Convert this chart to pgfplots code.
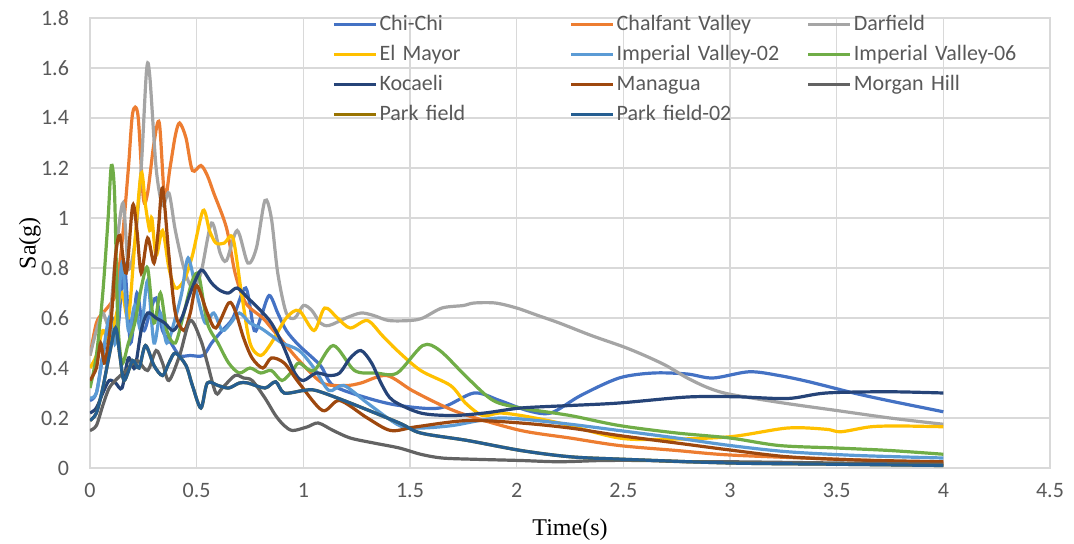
\documentclass[border=0pt]{standalone}
\usepackage{pgfplots}
\pgfplotsset{compat=1.18}
\usepackage{pgfplotstable}
\usepackage{fontspec}
\setmainfont{Carlito}
\newfontfamily\timesfont{Liberation Serif}

\definecolor{cChiChi}{HTML}{4472C4}
\definecolor{cChalfant}{HTML}{ED7D31}
\definecolor{cDarfield}{HTML}{A5A5A5}
\definecolor{cElMayor}{HTML}{FFC000}
\definecolor{cImpA}{HTML}{5B9BD5}
\definecolor{cImpB}{HTML}{70AD47}
\definecolor{cKocaeli}{HTML}{264478}
\definecolor{cManagua}{HTML}{9E480E}
\definecolor{cMorgan}{HTML}{636363}
\definecolor{cPark}{HTML}{997300}
\definecolor{cParkB}{HTML}{255E91}
\definecolor{gridc}{HTML}{D9D9D9}
\definecolor{tickc}{HTML}{595959}

% Park field and Park field-02 coincide (only the later one is visible)
\pgfplotstableread{
t sa
0 0.19
0.03 0.22
0.06 0.32
0.09 0.45
0.12 0.56
0.14 0.45
0.16 0.35
0.2 0.43
0.23 0.40
0.26 0.49
0.3 0.41
0.34 0.37
0.37 0.42
0.40 0.46
0.45 0.41
0.48 0.33
0.52 0.24
0.55 0.34
0.6 0.33
0.65 0.32
0.7 0.34
0.74 0.34
0.82 0.32
0.87 0.345
0.91 0.30
1.0 0.31
1.06 0.31
1.22 0.26
1.45 0.18
1.55 0.14
1.77 0.11
2.02 0.07
2.25 0.045
2.5 0.035
3.0 0.02
3.5 0.015
4.0 0.01
}\parkfield

\begin{document}
\begin{tikzpicture}
\begin{axis}[
  scale only axis, width=480pt, height=225pt,
  xmin=0, xmax=4.5, ymin=0, ymax=1.8,
  xtick={0,0.5,...,4.5}, ytick={0,0.2,...,1.8},
  major tick length=0pt,
  grid=major, major grid style={gridc, line width=0.8pt},
  axis line style={gridc, line width=0.8pt},
  tick label style={font=\fontsize{11}{13}\selectfont, text=tickc},
  /pgf/number format/assume math mode=true,
  xticklabel style={yshift=-4pt},
  yticklabel style={xshift=-7pt},
  xlabel={Time(s)}, ylabel={Sa(g)},
  label style={font=\timesfont\fontsize{12}{14}\selectfont},
  xlabel style={at={(axis description cs:0.5,-0.138)}, anchor=center},
  ylabel style={at={(axis description cs:-0.0625,0.5)}, anchor=center},
  every axis plot/.append style={line width=1.6pt, smooth, no markers},
  legend columns=3,
  legend cell align=left,
  legend image code/.code={\draw[#1] (0pt,0pt) -- (21pt,0pt);},
  legend style={at={(0.252,1.014)}, anchor=north west, draw=none, fill=none,
    inner sep=0pt, row sep=2.5pt,
    font=\fontsize{11}{13}\selectfont, text=tickc,
    nodes={text width=94pt, text height=8pt, text depth=2.5pt, inner sep=1pt, anchor=west}},
]
% Chi-Chi
\addplot[cChiChi] coordinates {(0,0.27)(0.03,0.3)(0.06,0.45)(0.1,0.6)(0.13,0.55)(0.16,0.82)(0.19,0.5)(0.22,0.7)(0.25,0.55)(0.28,0.62)(0.31,0.68)(0.34,0.55)(0.38,0.5)(0.42,0.45)(0.47,0.45)(0.53,0.45)(0.57,0.5)(0.62,0.55)(0.67,0.6)(0.73,0.72)(0.77,0.55)(0.8,0.6)(0.84,0.69)(0.88,0.62)(0.92,0.55)(0.98,0.49)(1.08,0.41)(1.14,0.33)(1.3,0.28)(1.45,0.25)(1.64,0.24)(1.8,0.30)(1.92,0.27)(2.05,0.23)(2.16,0.22)(2.3,0.29)(2.48,0.36)(2.64,0.38)(2.8,0.376)(2.92,0.36)(3.09,0.385)(3.23,0.37)(3.37,0.345)(3.58,0.30)(3.74,0.27)(4.0,0.225)};
\addlegendentry{Chi-Chi}
% Chalfant Valley
\addplot[cChalfant] coordinates {(0,0.45)(0.03,0.58)(0.06,0.62)(0.09,0.65)(0.12,0.7)(0.15,0.9)(0.18,1.2)(0.2,1.42)(0.225,1.41)(0.25,1.08)(0.27,1.1)(0.3,1.3)(0.325,1.38)(0.35,1.08)(0.375,1.2)(0.4,1.33)(0.42,1.38)(0.45,1.32)(0.48,1.19)(0.52,1.21)(0.55,1.17)(0.58,1.10)(0.64,0.96)(0.68,0.78)(0.73,0.66)(0.81,0.6)(0.85,0.56)(0.9,0.51)(0.98,0.43)(1.09,0.34)(1.2,0.33)(1.27,0.34)(1.39,0.37)(1.51,0.31)(1.65,0.25)(1.77,0.21)(2.02,0.15)(2.25,0.12)(2.48,0.09)(2.75,0.07)(3.0,0.052)(3.5,0.035)(4.0,0.02)};
\addlegendentry{Chalfant Valley}
% Darfield
\addplot[cDarfield] coordinates {(0,0.45)(0.03,0.55)(0.06,0.62)(0.09,0.58)(0.12,0.85)(0.155,1.06)(0.18,0.8)(0.21,0.9)(0.24,1.2)(0.265,1.59)(0.28,1.57)(0.31,1.2)(0.34,1.05)(0.37,1.1)(0.40,0.95)(0.44,0.8)(0.48,0.72)(0.52,0.78)(0.57,0.98)(0.61,0.86)(0.64,0.83)(0.69,0.95)(0.74,0.82)(0.78,0.88)(0.82,1.07)(0.85,1.0)(0.88,0.78)(0.92,0.62)(0.96,0.6)(1.0,0.65)(1.04,0.63)(1.08,0.58)(1.12,0.57)(1.2,0.6)(1.27,0.62)(1.33,0.61)(1.4,0.59)(1.5,0.59)(1.56,0.6)(1.65,0.64)(1.75,0.65)(1.8,0.66)(1.9,0.66)(2.0,0.64)(2.1,0.61)(2.2,0.58)(2.35,0.53)(2.5,0.485)(2.6,0.45)(2.7,0.41)(2.8,0.36)(2.9,0.32)(3.0,0.295)(3.25,0.26)(3.5,0.23)(3.75,0.2)(4.0,0.175)};
\addlegendentry{Darfield}
% El Mayor
\addplot[cElMayor] coordinates {(0,0.40)(0.03,0.45)(0.06,0.55)(0.09,0.5)(0.12,0.6)(0.15,0.7)(0.18,0.6)(0.21,0.9)(0.24,1.18)(0.26,1.05)(0.28,0.95)(0.29,1.0)(0.31,0.85)(0.34,0.95)(0.37,0.8)(0.4,0.72)(0.44,0.75)(0.48,0.85)(0.53,1.03)(0.56,0.95)(0.59,0.90)(0.63,0.9)(0.67,0.92)(0.71,0.70)(0.75,0.5)(0.8,0.45)(0.85,0.5)(0.92,0.6)(0.98,0.63)(1.05,0.55)(1.10,0.64)(1.16,0.6)(1.22,0.56)(1.30,0.59)(1.37,0.53)(1.44,0.47)(1.55,0.39)(1.69,0.33)(1.76,0.26)(1.84,0.21)(1.92,0.22)(2.02,0.21)(2.2,0.18)(2.48,0.12)(2.7,0.115)(3.0,0.125)(3.27,0.16)(3.45,0.155)(3.52,0.145)(3.66,0.165)(3.8,0.168)(4.0,0.165)};
\addlegendentry{El Mayor}
% Imperial Valley-02
\addplot[cImpA] coordinates {(0,0.28)(0.03,0.3)(0.06,0.45)(0.09,0.6)(0.12,0.5)(0.15,0.82)(0.18,0.55)(0.21,0.65)(0.24,0.55)(0.27,0.75)(0.3,0.5)(0.33,0.62)(0.36,0.5)(0.4,0.6)(0.43,0.7)(0.46,0.84)(0.5,0.7)(0.54,0.58)(0.58,0.62)(0.62,0.55)(0.66,0.58)(0.7,0.62)(0.75,0.58)(0.8,0.56)(0.85,0.53)(0.9,0.5)(0.98,0.47)(1.05,0.4)(1.12,0.31)(1.19,0.33)(1.3,0.26)(1.45,0.17)(1.55,0.16)(1.7,0.17)(1.92,0.2)(2.2,0.18)(2.48,0.15)(2.75,0.12)(3.0,0.09)(3.27,0.065)(3.6,0.05)(4.0,0.04)};
\addlegendentry{Imperial Valley-02}
% Imperial Valley-06
\addplot[cImpB] coordinates {(0,0.32)(0.03,0.45)(0.06,0.7)(0.085,1.0)(0.1,1.21)(0.115,1.1)(0.13,0.6)(0.15,0.42)(0.18,0.5)(0.21,0.58)(0.24,0.72)(0.27,0.8)(0.3,0.58)(0.33,0.7)(0.36,0.55)(0.4,0.5)(0.44,0.62)(0.48,0.75)(0.51,0.77)(0.55,0.58)(0.6,0.5)(0.65,0.42)(0.7,0.38)(0.75,0.40)(0.8,0.38)(0.85,0.39)(0.9,0.35)(0.95,0.39)(0.98,0.42)(1.05,0.39)(1.14,0.49)(1.24,0.39)(1.34,0.38)(1.44,0.38)(1.56,0.49)(1.64,0.47)(1.77,0.36)(1.89,0.27)(2.02,0.24)(2.25,0.21)(2.48,0.17)(2.75,0.14)(3.0,0.12)(3.23,0.09)(3.5,0.08)(3.75,0.07)(4.0,0.055)};
\addlegendentry{Imperial Valley-06}
% Kocaeli
\addplot[cKocaeli] coordinates {(0,0.22)(0.03,0.24)(0.06,0.3)(0.09,0.35)(0.12,0.34)(0.15,0.32)(0.18,0.44)(0.21,0.4)(0.24,0.55)(0.27,0.62)(0.31,0.6)(0.35,0.58)(0.39,0.55)(0.43,0.6)(0.47,0.7)(0.51,0.78)(0.53,0.79)(0.57,0.74)(0.61,0.71)(0.65,0.7)(0.69,0.72)(0.74,0.68)(0.8,0.63)(0.85,0.58)(0.9,0.5)(0.96,0.38)(1.0,0.35)(1.06,0.38)(1.12,0.37)(1.17,0.38)(1.22,0.44)(1.27,0.47)(1.32,0.42)(1.37,0.33)(1.42,0.27)(1.55,0.22)(1.7,0.21)(1.85,0.22)(2.02,0.24)(2.25,0.25)(2.48,0.26)(2.8,0.284)(3.03,0.285)(3.27,0.278)(3.45,0.30)(3.74,0.305)(4.0,0.30)};
\addlegendentry{Kocaeli}
% Managua
\addplot[cManagua] coordinates {(0,0.35)(0.03,0.4)(0.05,0.5)(0.07,0.42)(0.1,0.6)(0.12,0.85)(0.14,0.93)(0.17,0.78)(0.2,1.05)(0.22,0.95)(0.24,0.78)(0.27,0.92)(0.3,0.82)(0.32,0.95)(0.34,1.12)(0.37,0.85)(0.4,0.62)(0.44,0.55)(0.47,0.62)(0.5,0.73)(0.55,0.62)(0.59,0.56)(0.65,0.66)(0.68,0.63)(0.72,0.52)(0.76,0.44)(0.81,0.40)(0.85,0.44)(0.91,0.42)(0.98,0.34)(1.09,0.23)(1.17,0.27)(1.30,0.2)(1.41,0.15)(1.53,0.165)(1.77,0.19)(2.02,0.18)(2.25,0.16)(2.48,0.13)(2.75,0.1)(3.0,0.072)(3.27,0.045)(3.6,0.032)(4.0,0.025)};
\addlegendentry{Managua}
% Morgan Hill
\addplot[cMorgan] coordinates {(0,0.15)(0.03,0.17)(0.06,0.25)(0.09,0.32)(0.13,0.36)(0.17,0.39)(0.22,0.43)(0.27,0.39)(0.31,0.47)(0.34,0.42)(0.37,0.35)(0.42,0.45)(0.47,0.59)(0.52,0.51)(0.55,0.42)(0.59,0.30)(0.62,0.32)(0.68,0.37)(0.72,0.36)(0.76,0.35)(0.82,0.28)(0.87,0.21)(0.91,0.17)(0.95,0.15)(1.02,0.165)(1.07,0.18)(1.14,0.15)(1.22,0.12)(1.33,0.10)(1.45,0.08)(1.55,0.055)(1.65,0.04)(1.8,0.035)(2.02,0.03)(2.2,0.025)(2.4,0.03)(2.6,0.03)(2.8,0.025)(3.0,0.025)(3.5,0.02)(4.0,0.015)};
\addlegendentry{Morgan Hill}
% Park field
\addplot[cPark] table[x=t, y=sa] {\parkfield};
\addlegendentry{Park field}
% Park field-02
\addplot[cParkB] table[x=t, y=sa] {\parkfield};
\addlegendentry{Park field-02}
\end{axis}
\pgfresetboundingbox
\useasboundingbox (-45pt,-37.5pt) rectangle (492pt,234pt);
\end{tikzpicture}
\end{document}
